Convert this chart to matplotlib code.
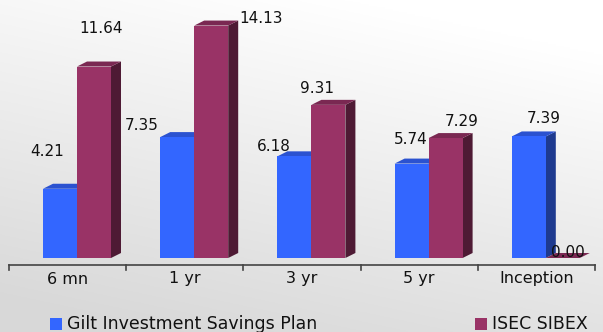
import numpy as np
import matplotlib
matplotlib.use("Agg")
import matplotlib.pyplot as plt
from matplotlib.patches import Polygon, Rectangle

categories = ["6 mn", "1 yr", "3 yr", "5 yr", "Inception"]
gilt = [4.21, 7.35, 6.18, 5.74, 7.39]
sibex = [11.64, 14.13, 9.31, 7.29, 0.00]
series_names = ["Gilt Investment Savings Plan", "ISEC SIBEX"]

# label nudges (points) of label centre relative to bar top-centre
gilt_off = [(-9.4, 26.6), (-25.9, 8.6), (-15.1, 7.2), (-0.7, 17.3), (10.8, 13)]
sibex_off = [(5, 27.4), (36, 5), (-7.9, 11.5), (11.5, 12.2), (3.6, 4.3)]

FONT = "DejaVu Sans"
W, H = 603, 332
fig = plt.figure(figsize=(W / 100, H / 100), dpi=100)

# background gradient
bg = fig.add_axes([0, 0, 1, 1], zorder=0)
yy, xx = np.mgrid[0:1:200j, 0:1:300j]
g = 1.0 - 0.15 * np.clip(yy * 0.9 + (1 - xx) * 0.35 - 0.15, 0, 1)
bg.imshow(np.dstack([g, g, g]), extent=[0, 1, 0, 1], aspect="auto", origin="upper")
bg.axis("off")

px_unit = 16.45
base_px = 258
axis_px = 265
left_px, right_px = 9, 595
ax = fig.add_axes([left_px / W, (H - axis_px) / H, (right_px - left_px) / W, axis_px / H], zorder=1)
ax.patch.set_alpha(0)
ymin = -(axis_px - base_px) / px_unit
ymax = base_px / px_unit
ax.set_ylim(ymin, ymax)
ax.set_xlim(-0.5, len(categories) - 0.5)

cat_px = (right_px - left_px) / len(categories)
ux = 1 / cat_px  # data per px in x
uy = 1 / px_unit
dx, dy = 10 * ux, 5 * uy
bw = 34 * ux
off_blue = -0.5 + 34 * ux

cols = {
    0: ("#3366ff", "#2b52d0", "#1e3a8f"),
    1: ("#993366", "#7a2852", "#4e1a34"),
}

def bar3d(x0, h, c, z):
    front, top, side = c
    ax.add_patch(Polygon([(x0 + bw, 0), (x0 + bw + dx, dy), (x0 + bw + dx, h + dy), (x0 + bw, h)],
                         closed=True, fc=side, ec="none", zorder=z))
    ax.add_patch(Polygon([(x0, h), (x0 + dx, h + dy), (x0 + bw + dx, h + dy), (x0 + bw, h)],
                         closed=True, fc=top, ec="none", zorder=z))
    if h > 0:
        ax.add_patch(Rectangle((x0, 0), bw, h, fc=front, ec="none", zorder=z + 0.1))

for i in range(len(categories)):
    xb = i + off_blue
    xm = xb + bw
    bar3d(xb, gilt[i], cols[0], 2)
    bar3d(xm, sibex[i], cols[1], 3)
    ax.annotate(f"{gilt[i]:.2f}", (xb + bw / 2, gilt[i]), xytext=gilt_off[i], textcoords="offset points",
                ha="center", va="center", fontsize=11, family=FONT, color="#111111",
                annotation_clip=False, zorder=5)
    ax.annotate(f"{sibex[i]:.2f}", (xm + bw / 2, sibex[i]), xytext=sibex_off[i], textcoords="offset points",
                ha="center", va="center", fontsize=11, family=FONT, color="#111111",
                annotation_clip=False, zorder=5)

for s in ["top", "right", "left"]:
    ax.spines[s].set_visible(False)
ax.spines["bottom"].set_color("#444444")
ax.spines["bottom"].set_linewidth(1.2)
ax.set_yticks([])
ax.set_xticks([])
for xt in np.arange(len(categories) + 1) - 0.5:
    ax.plot([xt, xt], [ymin, ymin - 5 * uy], color="#444444", lw=1.2, clip_on=False, zorder=4)
for i, c in enumerate(categories):
    ax.text(i, ymin - 14 * uy, c, ha="center", va="center", fontsize=11.5, family=FONT,
            color="#111111", clip_on=False)

# legend
fig.patches.append(Rectangle((50 / W, (H - 330) / H), 12 / W, 12 / H, transform=fig.transFigure,
                             fc=cols[0][0], ec="none", zorder=3))
fig.text(67 / W, (H - 324) / H, series_names[0], ha="left", va="center", fontsize=12.5,
         family=FONT, color="#111111")
fig.patches.append(Rectangle((475 / W, (H - 330) / H), 12 / W, 12 / H, transform=fig.transFigure,
                             fc=cols[1][0], ec="none", zorder=3))
fig.text(492 / W, (H - 324) / H, series_names[1], ha="left", va="center", fontsize=12.5,
         family=FONT, color="#111111")

fig.savefig("out.png", dpi=100)
